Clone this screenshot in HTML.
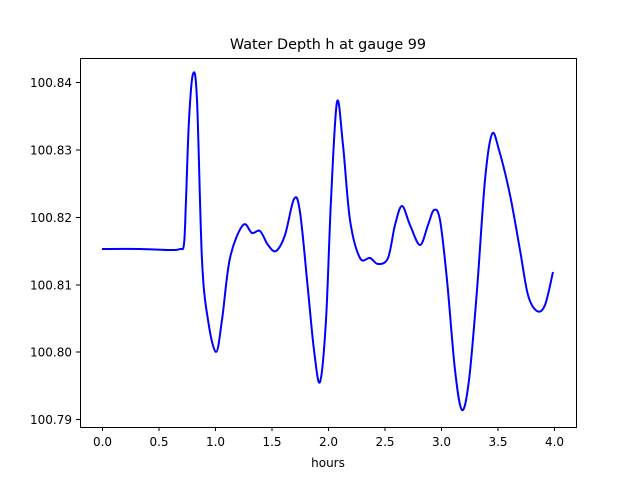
<!DOCTYPE html>
<html><head><meta charset="utf-8"><style>
html,body{margin:0;padding:0;background:#fff;}
svg{display:block;font-family:"DejaVu Sans","Liberation Sans",sans-serif;}
</style></head><body>
<svg id="s" width="640" height="480" viewBox="0 0 640 480" xmlns="http://www.w3.org/2000/svg">
<rect x="0" y="0" width="640" height="480" fill="#fff"/>
<text x="328" y="49" font-size="14.4" text-anchor="middle">Water Depth h at gauge 99</text>
<path id="curve" fill="none" stroke="#0000ff" stroke-width="2" stroke-linejoin="round"/>
<rect x="80.5" y="58.5" width="496" height="369" fill="none" stroke="#000" stroke-width="1"/>
<g stroke="#000" stroke-width="1">
<line x1="102.5" y1="427" x2="102.5" y2="431"/>
<line x1="159" y1="427" x2="159" y2="431"/>
<line x1="215.5" y1="427" x2="215.5" y2="431"/>
<line x1="272" y1="427" x2="272" y2="431"/>
<line x1="328.5" y1="427" x2="328.5" y2="431"/>
<line x1="385" y1="427" x2="385" y2="431"/>
<line x1="441.5" y1="427" x2="441.5" y2="431"/>
<line x1="498" y1="427" x2="498" y2="431"/>
<line x1="554.5" y1="427" x2="554.5" y2="431"/>
<line x1="76" y1="82.5" x2="80" y2="82.5"/>
<line x1="76" y1="150" x2="80" y2="150"/>
<line x1="76" y1="217.5" x2="80" y2="217.5"/>
<line x1="76" y1="285" x2="80" y2="285"/>
<line x1="76" y1="352" x2="80" y2="352"/>
<line x1="76" y1="419.5" x2="80" y2="419.5"/>
</g>
<g font-size="12" text-anchor="middle">
<text x="102.5" y="446">0.0</text><text x="159" y="446">0.5</text><text x="215.5" y="446">1.0</text>
<text x="272" y="446">1.5</text><text x="328.5" y="446">2.0</text><text x="385" y="446">2.5</text>
<text x="441.5" y="446">3.0</text><text x="498" y="446">3.5</text><text x="554.5" y="446">4.0</text>
<text x="328" y="467">hours</text>
</g>
<g font-size="12" text-anchor="end">
<text x="72" y="87">100.84</text><text x="72" y="154.5">100.83</text><text x="72" y="222">100.82</text>
<text x="72" y="289.5">100.81</text><text x="72" y="356.5">100.80</text><text x="72" y="424">100.79</text>
</g>
</svg>
<script>
var p=[[102,249],[140,249],[170,250],[180,249],[184,244],[186,200],[189,120],[193,74],[197,100],[202,260],[208,320],[216,352],[222,320],[230,258],[243,225],[252,233],[260,231],[268,245],[276,251],[285,235],[294,199],[300,212],[308,290],[314,350],[320,382],[326,320],[331,200],[337,102],[343,145],[350,220],[360,258],[370,258],[378,264],[388,258],[395,225],[402,206],[410,225],[420,245],[428,225],[434,210],[440,220],[447,280],[455,370],[462,410],[469,380],[477,290],[485,180],[492,134],[499,150],[510,195],[520,250],[528,295],[537,311],[545,305],[553,272]];
var d="M"+p[0][0]+","+p[0][1];
for(var i=0;i<p.length-1;i++){var a=p[Math.max(i-1,0)],b=p[i],c=p[i+1],e=p[Math.min(i+2,p.length-1)];
d+=" C"+(b[0]+(c[0]-a[0])/6)+","+(b[1]+(c[1]-a[1])/6)+" "+(c[0]-(e[0]-b[0])/6)+","+(c[1]-(e[1]-b[1])/6)+" "+c[0]+","+c[1];}
document.getElementById("curve").setAttribute("d",d);
</script>
</body></html>
